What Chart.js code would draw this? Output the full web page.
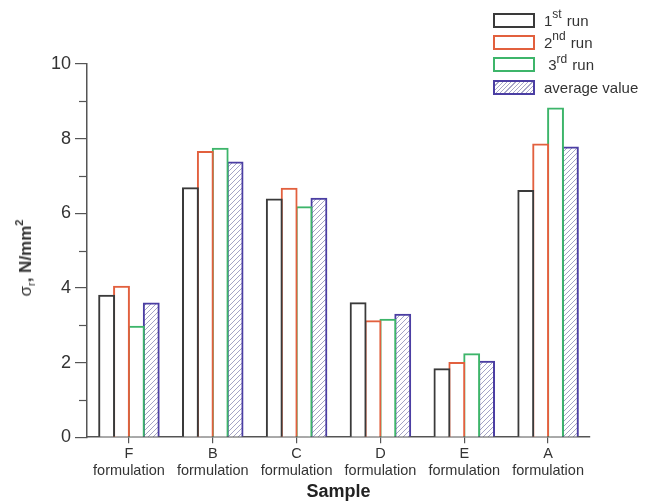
<!DOCTYPE html>
<html>
<head>
<meta charset="utf-8">
<script src="https://cdn.jsdelivr.net/npm/chart.js@4.4.0/dist/chart.umd.min.js"></script>
<style>
  html,body{margin:0;padding:0;background:#fff;}
  #wrap{position:relative;width:650px;height:504px;font-family:"Liberation Sans",Arial,sans-serif;}
  canvas{position:absolute;left:0;top:0;}
  #legend{position:absolute;left:493px;top:9px;font-size:15px;color:#333;}
  .row{height:22.3px;display:flex;align-items:center;white-space:nowrap;}
  .box{width:38px;height:11px;border:2px solid #333;margin-right:9px;box-sizing:content-box;}
  .row sup{font-size:12px;position:relative;top:-6px;vertical-align:baseline;line-height:0;margin-right:1px;}
  #ytitle{position:absolute;left:26px;top:258px;transform:translate(-50%,-50%) rotate(-90deg);font-size:17px;font-weight:bold;color:#333;white-space:nowrap;}
  #ytitle .n{font-weight:normal;}
  #ytitle sub{font-size:11px;vertical-align:-4px;line-height:0;}
  #ytitle sup{font-size:11px;vertical-align:8px;line-height:0;}
</style>
</head>
<body>
<div id="wrap">
  <canvas id="c" width="650" height="504"></canvas>
  <div id="legend">
    <div class="row"><span class="box" style="border-color:#3a3a3a"></span>1<sup>st</sup>&nbsp;run</div>
    <div class="row"><span class="box" style="border-color:#e2603e"></span>2<sup>nd</sup>&nbsp;run</div>
    <div class="row"><span class="box" style="border-color:#3db56a"></span>&nbsp;3<sup>rd</sup>&nbsp;run</div>
    <div class="row"><span class="box" style="border-color:#4b3ea3;background:repeating-linear-gradient(135deg,#fff 0 2px,#a8a8c8 2px 3px)"></span>average value</div>
  </div>
  <div id="ytitle"><span class="n">σ</span><sub class="n">r</sub>, N/mm<sup>2</sup></div>
</div>
<script>
const categories = [["F","formulation"],["B","formulation"],["C","formulation"],["D","formulation"],["E","formulation"],["A","formulation"]];
const run1 = [3.79, 6.67, 6.37, 3.59, 1.82, 6.60];
const run2 = [4.03, 7.64, 6.66, 3.11, 1.99, 7.84];
const run3 = [2.96, 7.73, 6.16, 3.15, 2.22, 8.81];
const average = [3.58, 7.36, 6.39, 3.28, 2.02, 7.76];
const yTicks = [0, 2, 4, 6, 8, 10];
const yMinorTicks = [1, 3, 5, 7, 9];

function hatch(){
  const p = document.createElement('canvas');
  p.width = 5; p.height = 5;
  const g = p.getContext('2d');
  g.fillStyle = '#fff'; g.fillRect(0,0,5,5);
  g.strokeStyle = '#a4a4c6'; g.lineWidth = 1;
  g.beginPath();
  g.moveTo(0,5); g.lineTo(5,0);
  g.moveTo(-1,1); g.lineTo(1,-1);
  g.moveTo(4,6); g.lineTo(6,4);
  g.stroke();
  return document.getElementById('c').getContext('2d').createPattern(p,'repeat');
}

const minorTicks = {
  id:'minorTicks',
  afterDraw(chart){
    const y = chart.scales.y, ctx = chart.ctx;
    ctx.save();
    ctx.strokeStyle = '#555'; ctx.lineWidth = 1.2;
    yMinorTicks.forEach(v => {
      const py = Math.round(y.getPixelForValue(v)) + 0.5;
      ctx.beginPath(); ctx.moveTo(y.right - 8, py); ctx.lineTo(y.right, py); ctx.stroke();
    });
    ctx.restore();
  }
};

const common = {borderWidth:2, borderSkipped:'start', barPercentage:1.0, categoryPercentage:0.71, inflateAmount:1};
new Chart(document.getElementById('c'), {
  type:'bar',
  data:{
    labels:categories,
    datasets:[
      Object.assign({label:'1st run', data:run1, borderColor:'#3a3a3a', backgroundColor:'#fff'}, common),
      Object.assign({label:'2nd run', data:run2, borderColor:'#e2603e', backgroundColor:'#fff'}, common),
      Object.assign({label:'3rd run', data:run3, borderColor:'#3db56a', backgroundColor:'#fff'}, common),
      Object.assign({label:'average value', data:average, borderColor:'#4b3ea3', backgroundColor:hatch()}, common)
    ]
  },
  plugins:[minorTicks],
  options:{
    responsive:false, animation:false,
    layout:{padding:{left:47, right:60, top:64, bottom:3}},
    plugins:{legend:{display:false}, tooltip:{enabled:false}},
    scales:{
      x:{
        border:{color:'#555', width:1.5},
        grid:{display:true, drawOnChartArea:false, drawTicks:true, tickLength:6, offset:false, color:'#555', lineWidth:1.2},
        ticks:{color:'#333', font:{family:'Liberation Sans', size:14.5, lineHeight:1.2}, padding:2, maxRotation:0},
        title:{display:true, text:'Sample', color:'#222', font:{family:'Liberation Sans', size:18, weight:'bold', lineHeight:1.0}, padding:{top:1,bottom:0}}
      },
      y:{
        min:0, max:10,
        border:{color:'#555', width:1.5},
        grid:{display:true, drawOnChartArea:false, drawTicks:true, tickLength:12, color:'#555', lineWidth:1.2},
        ticks:{stepSize:2, autoSkip:false, color:'#333', font:{family:'Liberation Sans', size:18}, padding:4,
          callback:function(v){ return yTicks.includes(v) ? String(v) : ''; }}
      }
    }
  }
});
</script>
</body>
</html>
